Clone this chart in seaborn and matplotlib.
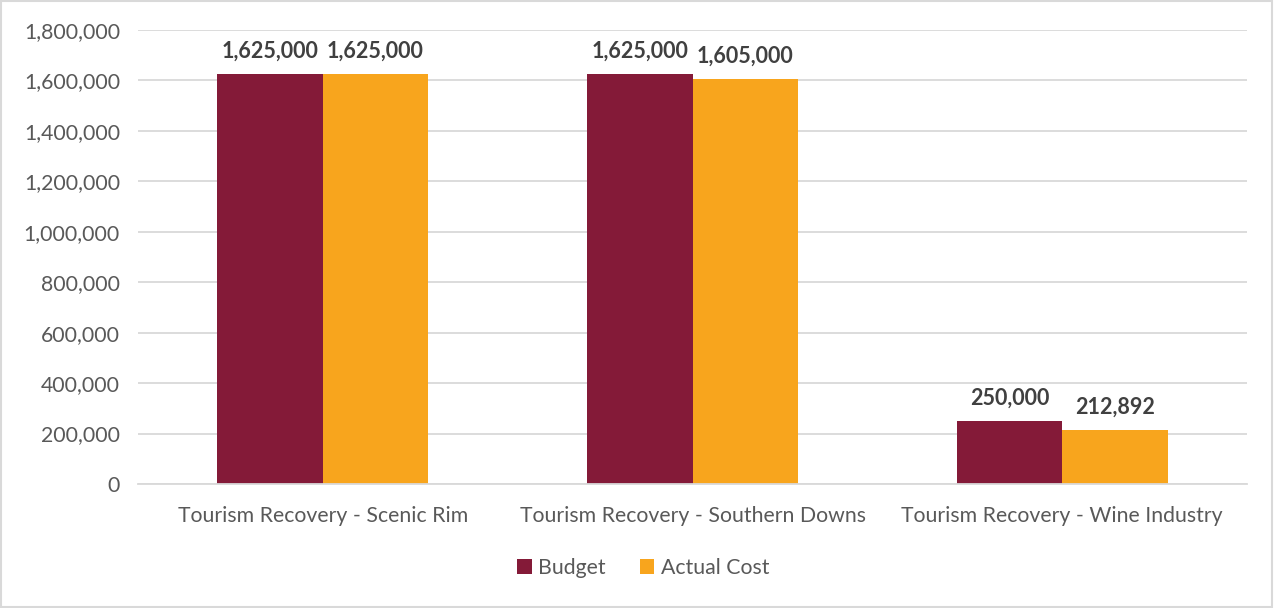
import matplotlib
matplotlib.use("Agg")
import matplotlib.pyplot as plt
import seaborn as sns
import pandas as pd
from matplotlib.patches import Rectangle
from matplotlib.ticker import FuncFormatter

categories = ["Tourism Recovery - Scenic Rim", "Tourism Recovery - Southern Downs", "Tourism Recovery - Wine Industry"]
budget = [1625000, 1625000, 250000]
actual = [1625000, 1605000, 212892]
series = ["Budget", "Actual Cost"]
colors = ["#841A38", "#F8A51D"]

df = pd.DataFrame({
    "category": categories * 2,
    "series": [series[0]] * 3 + [series[1]] * 3,
    "value": budget + actual,
})

sns.set_theme(style="white")
plt.rcParams["font.family"] = ["Lato", "DejaVu Sans"]

fig = plt.figure(figsize=(12.75, 6.08), dpi=100)
ax = fig.add_axes([138/1275, 1 - 484/608, (1247-138)/1275, (484-30)/608])

sns.barplot(data=df, x="category", y="value", hue="series", palette=colors,
            width=0.57, saturation=1, ax=ax, legend=True, linewidth=0)

ax.set_ylim(0, 1800000)
ax.set_xlim(-0.5, 2.5)
ax.set_yticks(range(0, 1800001, 200000))
ax.yaxis.set_major_formatter(FuncFormatter(lambda v, p: f"{int(v):,}"))
ax.grid(axis="y", color="#D9D9D9", linewidth=1.3)
ax.set_axisbelow(True)
for s in ["top", "right", "left"]:
    ax.spines[s].set_visible(False)
ax.spines["bottom"].set_color("#D9D9D9")
ax.spines["bottom"].set_linewidth(1.3)
ax.tick_params(axis="both", length=0, labelsize=15.3, colors="#595959", pad=13)
ax.tick_params(axis="x", pad=16)
ax.set_xlabel("")
ax.set_ylabel("")

for cont in ax.containers:
    ax.bar_label(cont, labels=[f"{int(v):,}" for v in cont.datavalues],
                 padding=9, fontsize=15.5, fontweight="bold", color="#404040")

leg = ax.legend(loc="center", bbox_to_anchor=(643/1275, 1 - 568/608),
                bbox_transform=fig.transFigure, ncol=2, frameon=False,
                fontsize=15.3, handlelength=0.7, handleheight=0.7,
                handletextpad=0.3, columnspacing=1.6)
for t in leg.get_texts():
    t.set_color("#595959")

fig.patches.append(Rectangle((0.001, 0.002), 0.997, 0.996, transform=fig.transFigure,
                             fill=False, edgecolor="#D9D9D9", linewidth=1.5))

fig.savefig("out.png", dpi=100)
